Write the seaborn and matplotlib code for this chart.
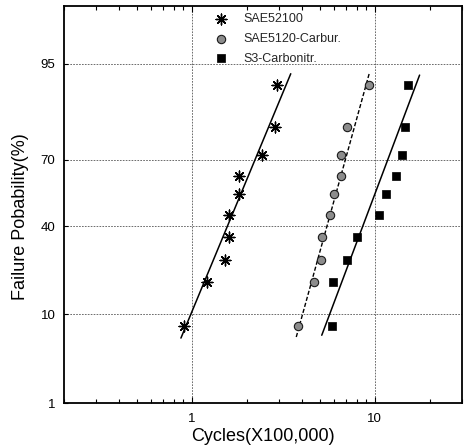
from statistics import NormalDist
import numpy as np
import matplotlib
matplotlib.use('Agg')
import matplotlib.pyplot as plt
import matplotlib.ticker as mticker
import seaborn as sns

# median ranks (%) shared by all three steels
failure_prob = [7.8, 18.1, 25.9, 35.2, 45.1, 54.9, 63.1, 71.9, 81.9, 91.9]

cycles_sae52100 = [0.905, 1.21, 1.52, 1.61, 1.60, 1.81, 1.81, 2.42, 2.84, 2.93]
cycles_sae5120 = [3.82, 4.69, 5.09, 5.18, 5.70, 6.00, 6.52, 6.52, 7.06, 9.27]
cycles_s3 = [5.83, 5.92, 7.06, 7.98, 10.5, 11.5, 13.1, 14.1, 14.6, 15.2]

# fitted lines (end points)
fit_cycles_sae52100 = [0.874, 3.48]
fit_prob_sae52100 = [5.9, 93.7]
fit_cycles_sae5120 = [3.73, 9.39]
fit_prob_sae5120 = [6.05, 93.95]
fit_cycles_s3 = [5.14, 17.6]
fit_prob_s3 = [6.3, 93.5]

series_names = ['SAE52100', 'SAE5120-Carbur.', 'S3-Carbonitr.']
prob_ticks = [1, 10, 40, 70, 95]
cycle_ticks = [1, 10]

sns.set_style('ticks')
plt.rcParams['font.family'] = ['Liberation Sans', 'DejaVu Sans']

_nd = NormalDist()
_inv = np.vectorize(_nd.inv_cdf, otypes=[float])
_cdf = np.vectorize(_nd.cdf, otypes=[float])


def prob_to_z(p):
    p = np.clip(np.asarray(p, dtype=float), 1e-6, 100 - 1e-6) / 100.0
    return _inv(p)


def z_to_prob(z):
    return _cdf(np.asarray(z, dtype=float)) * 100.0


fig = plt.figure(figsize=(4.65, 4.48), dpi=100)
ax = fig.add_axes([0.137, 0.0998, 0.8565, 0.8875])
ax.set_xscale('log')
ax.set_yscale('function', functions=(prob_to_z, z_to_prob))

styles = [
    dict(marker=(8, 2, 0), s=60, color='black', linewidths=1.0),
    dict(marker='o', s=36, color='#8c8c8c', edgecolor='#1a1a1a', linewidth=0.8),
    dict(marker='s', s=40, color='black', edgecolor='black', linewidth=0.5),
]
all_cycles = [cycles_sae52100, cycles_sae5120, cycles_s3]
for name, cyc, st in zip(series_names, all_cycles, styles):
    sns.scatterplot(x=cyc, y=failure_prob, ax=ax, label=name, zorder=3, **st)

fits = [(fit_cycles_sae52100, fit_prob_sae52100, '-', 1.1),
        (fit_cycles_sae5120, fit_prob_sae5120, (0, (3, 1.5)), 1.0),
        (fit_cycles_s3, fit_prob_s3, '-', 1.1)]
for fx, fy, ls, lw in fits:
    sns.lineplot(x=fx, y=fy, ax=ax, color='black', linestyle=ls, linewidth=lw,
                 legend=False, zorder=2)

ax.set_xlim(0.2, 30)
ax.set_ylim(1, 99)
ax.xaxis.set_major_locator(mticker.FixedLocator(cycle_ticks))
ax.xaxis.set_major_formatter(mticker.FuncFormatter(lambda v, _: f'{v:g}'))
ax.xaxis.set_minor_locator(mticker.LogLocator(base=10, subs=np.arange(2, 10)))
ax.xaxis.set_minor_formatter(mticker.NullFormatter())
ax.yaxis.set_major_locator(mticker.FixedLocator(prob_ticks))
ax.yaxis.set_major_formatter(mticker.FixedFormatter([str(t) for t in prob_ticks]))
ax.yaxis.set_minor_locator(mticker.NullLocator())

ax.tick_params(axis='x', which='both', direction='in', top=True, bottom=True,
               labelsize=9.5, colors='black', pad=7)
ax.tick_params(axis='x', which='minor', length=3, width=0.8)
ax.tick_params(axis='x', which='major', length=4, width=0.8)
ax.tick_params(axis='y', which='major', direction='in', length=3, width=0.8,
               labelsize=9.5, colors='black', pad=6)

ax.grid(True, which='major', linestyle=(0, (2, 1.5)), color='#555555', linewidth=0.6)
for sp in ax.spines.values():
    sp.set_color('black')
    sp.set_linewidth(1.3)

ax.set_xlabel('Cycles(X100,000)', fontsize=13, color='black', labelpad=2)
ax.set_ylabel('Failure Pobability(%)', fontsize=13, color='black')
ax.yaxis.set_label_coords(-0.088, 0.47)

ax.legend(loc='upper left', bbox_to_anchor=(0.36, 1.0), frameon=False,
          fontsize=9, handlelength=1.0, handletextpad=1.3, labelspacing=0.62,
          borderaxespad=0.2)

fig.savefig('out.png', dpi=100)
